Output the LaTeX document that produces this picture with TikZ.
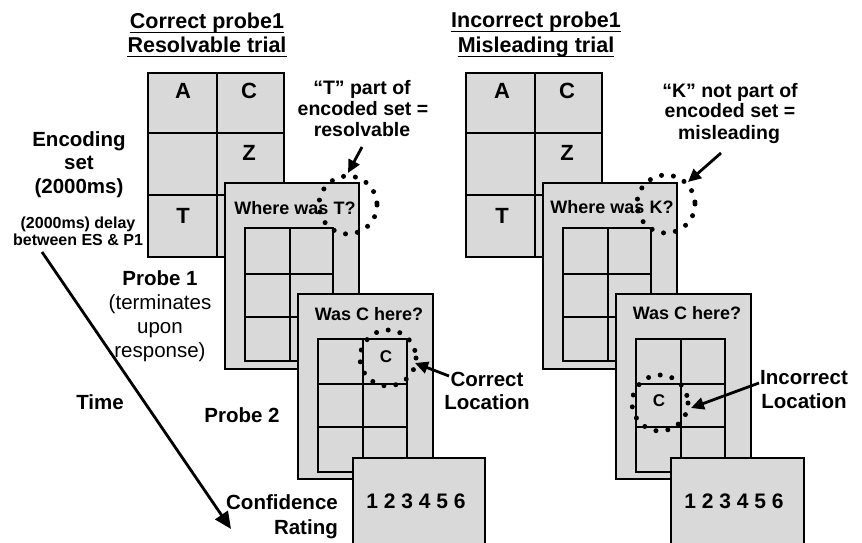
\documentclass[tikz,border=0pt]{standalone}
\usepackage{fontspec}
\setmainfont{Liberation Sans}
\usetikzlibrary{arrows.meta}
\definecolor{boxgray}{RGB}{217,217,217}
\tikzset{
  box/.style={draw=black, fill=boxgray, line width=2.8pt},
  gridline/.style={draw=black, line width=2.8pt},
  dotring/.style={draw=black, line width=5pt, line cap=round, dash pattern=on 0pt off 12pt},
  lab/.style={font=\fontsize{20.5}{24}\selectfont\bfseries, inner sep=0pt, anchor=base},
  labr/.style={font=\fontsize{20.5}{24}\selectfont, inner sep=0pt, anchor=base},
  ttl/.style={font=\fontsize{21.5}{24}\selectfont\bfseries, inner sep=0pt, anchor=base},
  note/.style={font=\fontsize{19.5}{21}\selectfont\bfseries, inner sep=0pt, anchor=base},
  small/.style={font=\fontsize{16}{18}\selectfont\bfseries, inner sep=0pt, anchor=base},
  letter/.style={font=\fontsize{22}{24}\selectfont\bfseries, inner sep=0pt, anchor=base},
  digits/.style={font=\fontsize{21}{24}\selectfont\bfseries, inner sep=0pt, anchor=base},
  qtext/.style={font=\fontsize{18}{20}\selectfont\bfseries, inner sep=0pt, anchor=base},
  cletter/.style={font=\fontsize{17}{20}\selectfont\bfseries, inner sep=0pt, anchor=base},
  arr/.style={line width=2.8pt, -{Triangle[length=13pt,width=12pt]}},
  uline/.style={line width=1.8pt},
}
\newcommand\cellgrid[7]{%
  \draw[box] (#1,#2) rectangle (#3,#4);
  \draw[gridline] (#5,#2) -- (#5,#4) (#1,#6) -- (#3,#6) (#1,#7) -- (#3,#7);}
\begin{document}
\begin{tikzpicture}[x=1pt, y=-1pt]
\useasboundingbox (0,0) rectangle (862,543);

% ---------- titles ----------
\node[ttl] (t1) at (207,29) {Correct probe1};
\node[ttl] (t2) at (207,53) {Resolvable trial};
\node[ttl] (t3) at (536,28) {Incorrect probe1};
\node[ttl] (t4) at (536,53) {Misleading trial};
\foreach \t in {t1,t2,t3,t4}
  \draw[uline] ([yshift=-3.5pt]\t.base west) -- ([yshift=-3.5pt]\t.base east);

% ---------- left side labels ----------
\node[lab] (enc1) at (79,146) {Encoding};
\node[lab] (enc2) at (79,169) {set};
\node[lab] (enc3) at (79,193) {(2000ms)};
\node[small] (del1) at (78,228) {(2000ms) delay};
\node[small] (del2) at (78,245) {between ES \& P1};
\node[lab] (pr1) at (160,285) {Probe 1};
\node[labr] (pr1a) at (160,309) {(terminates};
\node[labr] (pr1b) at (160,333) {upon};
\node[labr] (pr1c) at (160,357) {response)};
\node[lab] (time) at (100,409) {Time};
\node[lab] (pr2) at (242,422) {Probe 2};
\node[lab, anchor=base east] (conf1) at (338,509) {Confidence};
\node[lab, anchor=base east] (conf2) at (338,534) {Rating};
\coordinate (ts) at (42,252);
\coordinate (te) at (231,529);
\draw[arr, -{Triangle[length=17pt,width=15pt]}] (ts) -- (te);

% ================= LEFT PANEL =================
\cellgrid{148}{73}{284}{257}{217}{133}{195}
\node[letter] (lA) at (183,99) {A};
\node[letter] (lC) at (249,99) {C};
\node[letter] (lZ) at (249,160) {Z};
\node[letter] (lT) at (183,223) {T};

\draw[box] (225,183) rectangle (359,369);
\cellgrid{245}{228}{333}{361}{290}{274}{317}
\node[qtext] (lq1) at (295,214) {Where was T?};
\draw[dotring] (348,205) circle[radius=29];

\draw[box] (298,294) rectangle (433,479);
\cellgrid{318}{339}{407}{472}{363}{384}{427}
\node[qtext] (lq2) at (369,320) {Was C here?};
\node[cletter] (lc) at (386,362) {C};
\draw[dotring] (388,358) circle[radius=28];

\draw[box] (353,458) rectangle (485,548);
\node[digits] (lr) at (416,508) {1 2 3 4 5 6};

\node[note] (ln1) at (362,95) {“T” part of};
\node[note] (ln2) at (363,115) {encoded set =};
\node[note] (ln3) at (362,136) {resolvable};
\coordinate (la1) at (362,147);
\coordinate (la2) at (348,173);
\draw[arr] (la1) -- (la2);

\node[lab] (lloc1) at (487,386) {Correct};
\node[lab] (lloc2) at (487,409) {Location};
\coordinate (lb1) at (449,376);
\coordinate (lb2) at (415,363);
\draw[arr] (lb1) -- (lb2);

% ================= RIGHT PANEL =================
\begin{scope}[xshift=318pt]
\cellgrid{148}{73}{284}{257}{217}{133}{195}
\end{scope}
\node[letter] (rA) at (502,99) {A};
\node[letter] (rC) at (567,99) {C};
\node[letter] (rZ) at (567,160) {Z};
\node[letter] (rT) at (502,223) {T};

\begin{scope}[xshift=318pt]
\draw[box] (225,183) rectangle (359,369);
\cellgrid{245}{228}{333}{361}{290}{274}{317}
\end{scope}
\node[qtext] (rq1) at (612,213) {Where was K?};
\draw[dotring] (666,204) circle[radius=29];

\begin{scope}[xshift=318pt]
\draw[box] (298,294) rectangle (433,479);
\cellgrid{318}{339}{407}{472}{363}{384}{427}
\end{scope}
\node[qtext] (rq2) at (687,319) {Was C here?};
\node[cletter] (rc) at (659,406) {C};
\draw[dotring] (660,403) circle[radius=28];

\begin{scope}[xshift=318pt]
\draw[box] (353,458) rectangle (486,548);
\end{scope}
\node[digits] (rr) at (734,508) {1 2 3 4 5 6};

\node[note] (rn1) at (730,97) {“K” not part of};
\node[note] (rn2) at (730,117) {encoded set =};
\node[note] (rn3) at (729,139) {misleading};
\coordinate (ra1) at (721,153);
\coordinate (ra2) at (688,182);
\draw[arr] (ra1) -- (ra2);

\node[lab] (rloc1) at (804,384) {Incorrect};
\node[lab] (rloc2) at (804,408) {Location};
\coordinate (rb1) at (759,383);
\coordinate (rb2) at (691,408);
\draw[arr] (rb1) -- (rb2);
\end{tikzpicture}
\end{document}
